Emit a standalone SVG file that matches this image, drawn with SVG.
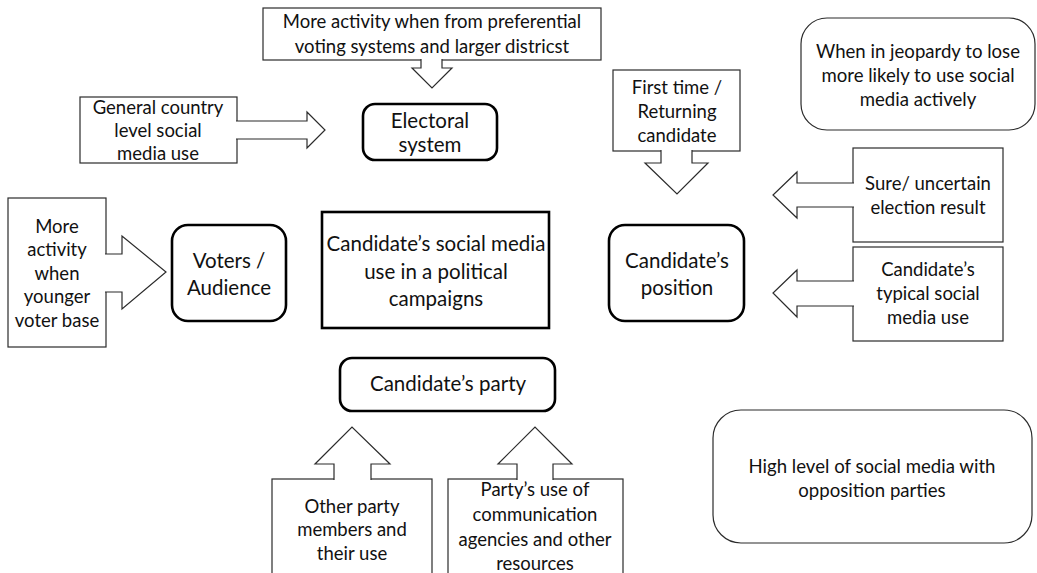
<svg xmlns="http://www.w3.org/2000/svg" width="1037" height="573" viewBox="0 0 1037 573">
  <style>
    .bg { fill: #ffffff; }
    .thin { fill: #ffffff; stroke: #2b2b2b; stroke-width: 1.2; }
    .thick { fill: #ffffff; stroke: #000000; stroke-width: 2.6; }
    .blk { fill: #ffffff; stroke: #2b2b2b; stroke-width: 1.2; stroke-linejoin: miter; }
    text { font-family: Lato, "Liberation Sans", sans-serif; fill: #111111; text-anchor: middle; }
    .s { font-size: 18.5px; }
    .m { font-size: 18.6px; }
    .l { font-size: 20.5px; }
  </style>
  <rect class="bg" x="0" y="0" width="1037" height="573"/>

  <!-- source boxes (callouts) -->
  <g id="node-preferential">
    <rect class="thin" x="263" y="8" width="338" height="52"/>
    <text class="s" x="432" y="28">More activity when from preferential</text>
    <text class="s" x="432" y="53">voting systems and larger districst</text>
  </g>
  <g id="node-country">
    <rect class="thin" x="80" y="97" width="157" height="66"/>
    <text class="s" x="158" y="114">General country</text>
    <text class="s" x="158" y="137">level social</text>
    <text class="s" x="158" y="160">media use</text>
  </g>
  <g id="node-younger">
    <rect class="thin" x="8" y="198" width="98" height="149"/>
    <text class="s" x="57" y="233">More</text>
    <text class="s" x="57" y="256">activity</text>
    <text class="s" x="57" y="280">when</text>
    <text class="s" x="57" y="303">younger</text>
    <text class="s" x="57" y="327">voter base</text>
  </g>
  <g id="node-firsttime">
    <rect class="thin" x="613" y="70" width="127" height="81"/>
    <text class="s" x="677" y="94">First time /</text>
    <text class="s" x="677" y="118">Returning</text>
    <text class="s" x="677" y="142">candidate</text>
  </g>
  <g id="node-sure">
    <rect class="thin" x="853" y="148" width="150" height="94"/>
    <text class="s" x="928" y="190">Sure/ uncertain</text>
    <text class="s" x="928" y="214">election result</text>
  </g>
  <g id="node-typical">
    <rect class="thin" x="853" y="247" width="150" height="94"/>
    <text class="s" x="928" y="276">Candidate’s</text>
    <text class="s" x="928" y="300">typical social</text>
    <text class="s" x="928" y="324">media use</text>
  </g>
  <g id="node-members">
    <rect class="thin" x="272" y="479" width="160" height="110"/>
    <text class="s" x="352" y="513">Other party</text>
    <text class="s" x="352" y="536">members and</text>
    <text class="s" x="352" y="560">their use</text>
  </g>
  <g id="node-agencies">
    <rect class="thin" x="448" y="479" width="175" height="110"/>
    <text class="s" x="535" y="496">Party’s use of</text>
    <text class="s" x="535" y="521">communication</text>
    <text class="s" x="535" y="546">agencies and other</text>
    <text class="s" x="535" y="570">resources</text>
  </g>

  <!-- central factors -->
  <g id="node-electoral">
    <rect class="thick" x="363" y="104" width="134" height="56" rx="12"/>
    <text class="l" x="430" y="128">Electoral</text>
    <text class="l" x="430" y="152">system</text>
  </g>
  <g id="node-voters">
    <rect class="thick" x="172" y="225" width="114" height="96" rx="16"/>
    <text class="l" x="229" y="268">Voters /</text>
    <text class="l" x="229" y="295">Audience</text>
  </g>
  <g id="node-campaign">
    <rect class="thick" x="322" y="212" width="227" height="116"/>
    <text class="l" x="436" y="251">Candidate’s social media</text>
    <text class="l" x="436" y="279">use in a political</text>
    <text class="l" x="436" y="306">campaigns</text>
  </g>
  <g id="node-position">
    <rect class="thick" x="609" y="225" width="135" height="96" rx="16"/>
    <text class="l" x="677" y="268">Candidate’s</text>
    <text class="l" x="677" y="295">position</text>
  </g>
  <g id="node-party">
    <rect class="thick" x="340" y="358" width="215" height="53" rx="12"/>
    <text class="l" x="448" y="391">Candidate’s party</text>
  </g>

  <!-- free-standing notes -->
  <g id="node-jeopardy">
    <rect class="thin" x="801" y="18" width="234" height="112" rx="26"/>
    <text class="m" x="918" y="58">When in jeopardy to lose</text>
    <text class="m" x="918" y="82">more likely to use social</text>
    <text class="m" x="918" y="106">media actively</text>
  </g>
  <g id="node-opposition">
    <rect class="thin" x="713" y="410" width="319" height="133" rx="28"/>
    <text class="m" x="872" y="473">High level of social media with</text>
    <text class="m" x="872" y="497">opposition parties</text>
  </g>

  <!-- block arrows; each opens into its source box -->
  <g id="connectors">
    <path class="blk" d="M421,59 V68 H412 L432,88 L452,68 H442 V59"/>
    <path class="blk" d="M236,121 H307 V112 L325,130 L307,148 V139 H236"/>
    <path class="blk" d="M105,254 H122 V236 L166,272 L122,309 V292 H105"/>
    <path class="blk" d="M661,150 V163 H645 L677,194 L708,163 H692 V150"/>
    <path class="blk" d="M854,183 H797 V172 L773,195 L797,218 V207 H854"/>
    <path class="blk" d="M854,281 H797 V270 L773,293 L797,317 V306 H854"/>
    <path class="blk" d="M334,480 V464 H315 L352,427 L390,464 H371 V480"/>
    <path class="blk" d="M517,480 V464 H498 L535,427 L572,464 H553 V480"/>
  </g>
</svg>
